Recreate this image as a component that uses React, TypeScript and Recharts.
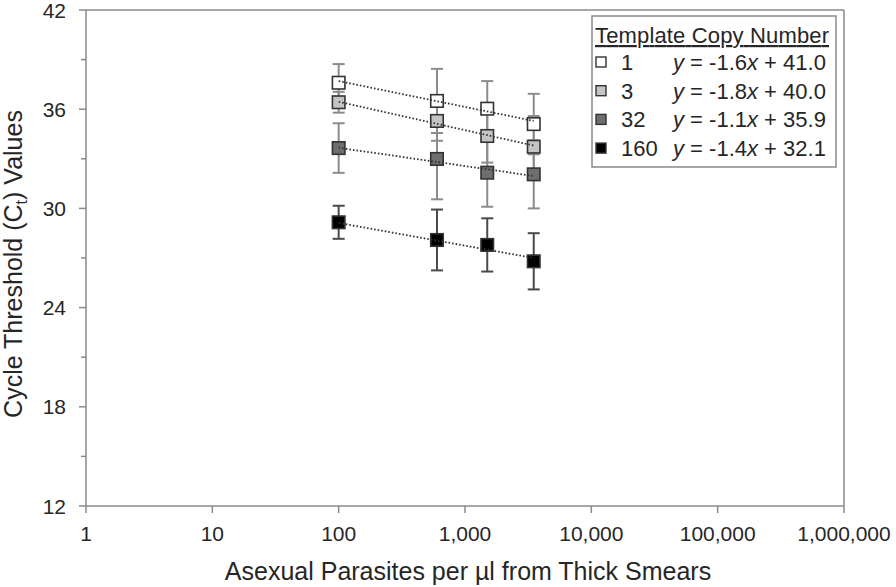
import React from 'react';
import { ScatterChart, Scatter, XAxis, YAxis, ErrorBar, ReferenceLine } from 'recharts';

// ---- data ----
const xValues = [100, 600, 1500, 3500];
const copyNumbers = ['1', '3', '32', '160'];
const ct1 = [37.6, 36.5, 36.03, 35.1];
const err1 = [1.13, 1.94, 1.67, 1.83];
const ct3 = [36.42, 35.29, 34.38, 33.73];
const err3 = [0.63, 1.2, 1.61, 1.86];
const ct32 = [33.65, 32.99, 32.16, 32.06];
const err32 = [1.5, 2.44, 2.06, 2.06];
const ct160 = [29.16, 28.09, 27.79, 26.8];
const err160 = [1.0, 1.84, 1.61, 1.7];
const trendX = [100, 3500];
const trendStart = [37.7, 36.45, 33.67, 29.12];
const trendEnd = [35.29, 33.8, 31.96, 27.0];
const slopes = ['-1.6', '-1.8', '-1.1', '-1.4'];
const intercepts = ['41.0', '40.0', '35.9', '32.1'];
const xTicks = [1, 10, 100, 1000, 10000, 100000, 1000000];
const yTicks = [12, 15, 18, 21, 24, 27, 30, 33, 36, 39, 42];

const fills = ['#ffffff', '#c4c4c4', '#6e6e6e', '#000000'];
const errColors = ['#8c8c8c', '#8c8c8c', '#8c8c8c', '#4a4a4a'];
const AXIS = '#8a8a8a';
const TEXT = '#262626';
const FONT = '"Liberation Sans", Arial, sans-serif';

const seriesCt = [ct1, ct3, ct32, ct160];
const seriesErr = [err1, err3, err32, err160];
const seriesData = seriesCt.map((ct, s) =>
  xValues.map((x, i) => ({ x, y: ct[i], err: seriesErr[s][i] }))
);
const trendData = trendStart.map((v, s) => [
  { x: trendX[0], y: v },
  { x: trendX[1], y: trendEnd[s] },
]);

const fmt = (v: number) => v.toLocaleString('en-US');

const XTick = (props: any) => {
  const { x, y, payload } = props;
  return (
    <g>
      <line x1={x} x2={x} y1={y} y2={y + 7} stroke={AXIS} strokeWidth={1.5} />
      <text x={x} y={y + 35} textAnchor="middle" fontSize={21} fill={TEXT} fontFamily={FONT}>
        {fmt(payload.value)}
      </text>
    </g>
  );
};

const YTick = (props: any) => {
  const { x, y, payload } = props;
  const major = payload.value % 6 === 0;
  return (
    <g>
      <line x1={x - (major ? 7 : 5)} x2={x} y1={y} y2={y} stroke={AXIS} strokeWidth={1.5} />
      {major && (
        <text x={x - 20} y={y} dy="0.36em" textAnchor="end" fontSize={21} fill={TEXT} fontFamily={FONT}>
          {payload.value}
        </text>
      )}
    </g>
  );
};

const makeSquare = (fill: string) => (props: any) => {
  const { cx, cy } = props;
  if (cx == null || cy == null) return <g />;
  const s = 12.5;
  return <rect x={cx - s / 2} y={cy - s / 2} width={s} height={s} fill={fill} stroke="#333" strokeWidth={1.6} />;
};

const Empty = () => <g />;

export default function App() {
  return (
    <div style={{ position: 'absolute', left: 0, top: 0, width: 896, height: 587, background: '#fff' }}>
      <ScatterChart
        width={896}
        height={587}
        margin={{ top: 10, right: 52, bottom: 0, left: 0 }}
        style={{ fontFamily: FONT }}
      >
        <XAxis
          dataKey="x"
          type="number"
          scale="log"
          domain={[1, 1000000]}
          ticks={xTicks}
          interval={0}
          allowDataOverflow
          height={81}
          tickSize={0}
          tickMargin={0}
          tick={<XTick />}
          axisLine={{ stroke: AXIS, strokeWidth: 1.5 }}
          tickLine={false}
        />
        <YAxis
          dataKey="y"
          type="number"
          domain={[12, 42]}
          ticks={yTicks}
          interval={0}
          allowDataOverflow
          width={86}
          tickSize={0}
          tickMargin={0}
          tick={<YTick />}
          axisLine={{ stroke: AXIS, strokeWidth: 1.5 }}
          tickLine={false}
        />
        <ReferenceLine y={42} stroke={AXIS} strokeWidth={1.5} ifOverflow="visible" />
        <ReferenceLine x={1000000} stroke={AXIS} strokeWidth={1.5} ifOverflow="visible" />
        {seriesData.map((d, s) => (
          <Scatter key={'e' + s} data={d} shape={Empty} isAnimationActive={false}>
            <ErrorBar dataKey="err" direction="y" width={6} stroke={errColors[s]} strokeWidth={2} />
          </Scatter>
        ))}
        {seriesData.map((d, s) => (
          <Scatter key={'m' + s} data={d} shape={makeSquare(fills[s])} isAnimationActive={false} />
        ))}
        {trendData.map((d, s) => (
          <Scatter
            key={'t' + s}
            data={d}
            shape={Empty}
            line={{ stroke: '#333', strokeWidth: 1.8, strokeDasharray: '1.6 2' }}
            isAnimationActive={false}
          />
        ))}
      </ScatterChart>
      <svg
        width={896}
        height={587}
        style={{ position: 'absolute', left: 0, top: 0, pointerEvents: 'none' }}
        fontFamily={FONT}
      >
        <text x={468} y={580} textAnchor="middle" fontSize={25} fill={TEXT}>
          Asexual Parasites per µl from Thick Smears
        </text>
        <text x={22} y={264} transform="rotate(-90 22 264)" textAnchor="middle" fontSize={25} fill={TEXT}>
          Cycle Threshold (C<tspan fontSize={16} dy={5}>t</tspan>
          <tspan dy={-5}>) Values</tspan>
        </text>
        <rect x={592} y={16} width={244} height={151} fill="#fff" stroke={AXIS} strokeWidth={1.5} />
        <text x={595} y={43} fontSize={22} fill={TEXT} textDecoration="underline" textLength={234} lengthAdjust="spacing">
          Template Copy Number
        </text>
        {copyNumbers.map((c, i) => {
          const cy = 62 + i * 28.7;
          return (
            <g key={c}>
              <rect x={596} y={cy - 5} width={10} height={10} fill={fills[i]} stroke="#333" strokeWidth={1.4} />
              <text x={621} y={cy} dy="0.36em" fontSize={22} fill={TEXT}>
                {c}
              </text>
              <text x={673} y={cy} dy="0.36em" fontSize={22} fill={TEXT}>
                <tspan fontStyle="italic">y</tspan>
                {' = ' + slopes[i]}
                <tspan fontStyle="italic">x</tspan>
                {' + ' + intercepts[i]}
              </text>
            </g>
          );
        })}
      </svg>
    </div>
  );
}
